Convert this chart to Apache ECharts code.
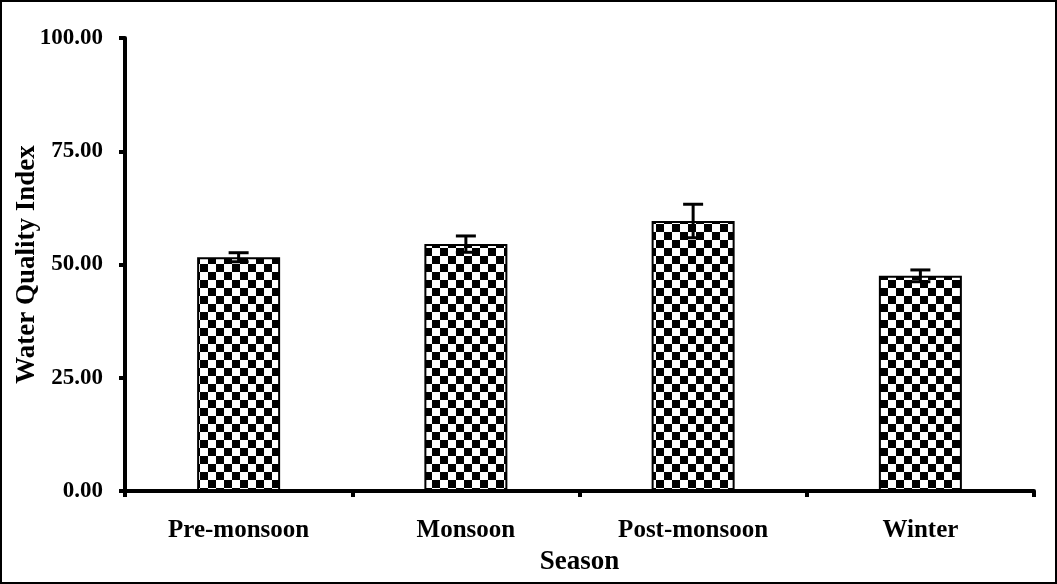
<!DOCTYPE html>
<html lang="en">
<head>
    <meta charset="UTF-8">
    <title>Water Quality Index</title>
    <script src="https://cdn.jsdelivr.net/npm/echarts@6/dist/echarts.min.js"></script>
    <style>
        html, body { margin: 0; padding: 0; background: #fff; }
        #main { width: 1057px; height: 584px; }
    </style>
</head>
<body>
<div id="main"></div>
<script>
    // data
    var seasons = ['Pre-monsoon', 'Monsoon', 'Post-monsoon', 'Winter'];
    var wqi = [51.6, 54.5, 59.6, 47.5];
    var wqiErr = [1.0, 1.8, 3.7, 1.3];
    var yTicks = [0, 25, 50, 75, 100];

    // checkerboard fill
    var tile = document.createElement('canvas');
    tile.width = 16;
    tile.height = 16;
    var ctx = tile.getContext('2d');
    ctx.fillStyle = '#fff';
    ctx.fillRect(0, 0, 16, 16);
    ctx.fillStyle = '#000';
    ctx.fillRect(0, 0, 8, 8);
    ctx.fillRect(8, 8, 8, 8);

    var errData = [];
    for (var i = 0; i < seasons.length; i++) {
        errData.push([i, wqi[i] - wqiErr[i], wqi[i] + wqiErr[i]]);
    }

    var font = '"Liberation Serif", "Times New Roman", serif';
    var chart = echarts.init(document.getElementById('main'));
    chart.setOption({
        animation: false,
        textStyle: { fontFamily: font },
        graphic: [{
            type: 'rect',
            shape: { x: 1, y: 1, width: 1055, height: 582 },
            style: { fill: 'none', stroke: '#000', lineWidth: 2 }
        }],
        grid: { left: 125, right: 23, top: 38, bottom: 93, containLabel: false, outerBoundsMode: 'none' },
        xAxis: {
            type: 'category',
            data: seasons,
            name: 'Season',
            nameLocation: 'middle',
            nameGap: 58,
            nameMoveOverlap: false,
            nameTextStyle: { fontFamily: font, fontWeight: 'bold', fontSize: 27, color: '#000' },
            axisLine: { lineStyle: { color: '#000', width: 4 } },
            axisTick: { show: true, length: 6, lineStyle: { color: '#000', width: 4 } },
            axisLabel: { fontFamily: font, fontWeight: 'bold', fontSize: 25, color: '#000', margin: 27 }
        },
        yAxis: {
            type: 'value',
            min: yTicks[0],
            max: yTicks[yTicks.length - 1],
            interval: 25,
            name: 'Water Quality Index',
            nameLocation: 'middle',
            nameGap: 84,
            nameMoveOverlap: false,
            nameTextStyle: { fontFamily: font, fontWeight: 'bold', fontSize: 27, color: '#000' },
            splitLine: { show: false },
            axisLine: { show: true, lineStyle: { color: '#000', width: 4 } },
            axisTick: { show: true, length: 6, lineStyle: { color: '#000', width: 4 } },
            axisLabel: {
                fontFamily: font, fontWeight: 'bold', fontSize: 23, color: '#000', margin: 22,
                formatter: function (v) { return v.toFixed(2); }
            }
        },
        series: [{
            type: 'bar',
            data: wqi,
            barWidth: 83,
            itemStyle: {
                color: { image: tile, repeat: 'repeat' },
                borderColor: '#000',
                borderWidth: 2
            }
        }, {
            type: 'custom',
            data: errData,
            z: 10,
            renderItem: function (params, api) {
                var x = api.coord([api.value(0), api.value(1)])[0];
                var lo = api.coord([api.value(0), api.value(1)])[1];
                var hi = api.coord([api.value(0), api.value(2)])[1];
                var half = 10;
                var st = { stroke: '#000', lineWidth: 3 };
                return {
                    type: 'group',
                    children: [
                        { type: 'line', shape: { x1: x, y1: hi, x2: x, y2: lo }, style: st },
                        { type: 'line', shape: { x1: x - half, y1: hi, x2: x + half, y2: hi }, style: st },
                        { type: 'line', shape: { x1: x - half, y1: lo, x2: x + half, y2: lo }, style: st }
                    ]
                };
            }
        }]
    });
</script>
</body>
</html>
